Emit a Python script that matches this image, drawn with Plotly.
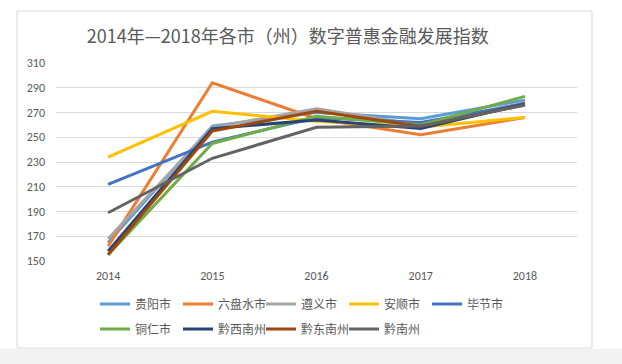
import plotly.graph_objects as go

years = ["2014", "2015", "2016", "2017", "2018"]
names = ["贵阳市", "六盘水市", "遵义市", "安顺市", "毕节市", "铜仁市", "黔西南州", "黔东南州", "黔南州"]
guiyang = [165, 259, 270, 265, 280]
liupanshui = [162, 294, 265, 252, 266]
zunyi = [168, 258, 273, 260, 278]
anshun = [234, 271, 263, 258, 266]
bijie = [212, 246, 266, 262, 277]
tongren = [155, 245, 267, 260, 283]
qianxinan = [158, 257, 264, 257, 277]
qiandongnan = [155, 255, 271, 259, 276]
qiannan = [189, 233, 258, 259, 276]
series = [guiyang, liupanshui, zunyi, anshun, bijie, tongren, qianxinan, qiandongnan, qiannan]
colors = ["#5B9BD5", "#ED7D31", "#A5A5A5", "#FFC000", "#4472C4", "#70AD47", "#264478", "#9E480E", "#636363"]
yticks = [150, 170, 190, 210, 230, 250, 270, 290, 310]

font = "Carlito, Calibri, 'Noto Sans CJK SC', sans-serif"
fig = go.Figure()
for i, (n, v, c) in enumerate(zip(names, series, colors)):
    fig.add_trace(go.Scatter(x=years, y=v, name=n, mode="lines",
                             line=dict(color=c, width=3),
                             legend="legend" if i < 5 else "legend2"))

W, H = 622, 364
l, r, t, b = 56, W - 577, 63, H - 261
pw, ph = W - l - r, H - t - b

def px(x):
    return (x - l) / pw

def py(y):
    return (H - b - y) / ph

fig.add_shape(type="rect", xref="paper", yref="paper",
              x0=px(17), x1=px(592), y0=py(348), y1=py(11),
              line=dict(color="#D9D9D9", width=1), fillcolor="rgba(0,0,0,0)", layer="below")
fig.add_shape(type="rect", xref="paper", yref="paper",
              x0=px(0), x1=px(622), y0=py(364), y1=py(349),
              line=dict(width=0), fillcolor="#F2F2F2", layer="below")

leg = dict(orientation="h", xanchor="left", yanchor="middle",
           entrywidth=38, entrywidthmode="pixels", itemwidth=30,
           font=dict(size=12, color="#595959"), bgcolor="rgba(0,0,0,0)",
           traceorder="normal")

fig.update_layout(
    width=W, height=H,
    margin=dict(l=l, r=r, t=t, b=b),
    paper_bgcolor="white", plot_bgcolor="white",
    font=dict(family="'Noto Sans CJK SC', sans-serif", color="#595959", size=11),
    title=dict(text="2014年—2018年各市（州）数字普惠金融发展指数",
               x=px(297), xanchor="center", y=1 - 37 / H, yanchor="middle",
               font=dict(size=18, color="#595959", family="'Noto Sans CJK SC', sans-serif")),
    showlegend=True,
    legend=dict(leg, x=px(95), y=py(304)),
    legend2=dict(leg, x=px(95), y=py(329)),
    xaxis=dict(type="category", range=[-0.5, 4.5], showgrid=False, zeroline=False,
               showline=False, ticks="", ticklabelstandoff=6,
               tickfont=dict(size=12, color="#595959", family=font)),
    yaxis=dict(range=[150, 310], tickvals=yticks, showgrid=True, gridcolor="#D9D9D9",
               gridwidth=1, zeroline=False, showline=False, ticks="",
               ticklabelstandoff=10,
               tickfont=dict(size=12, color="#595959", family=font)),
)
fig.write_html("out.html", config={"displayModeBar": False},
               post_script="document.body.style.margin='0';document.body.style.overflow='hidden';")
